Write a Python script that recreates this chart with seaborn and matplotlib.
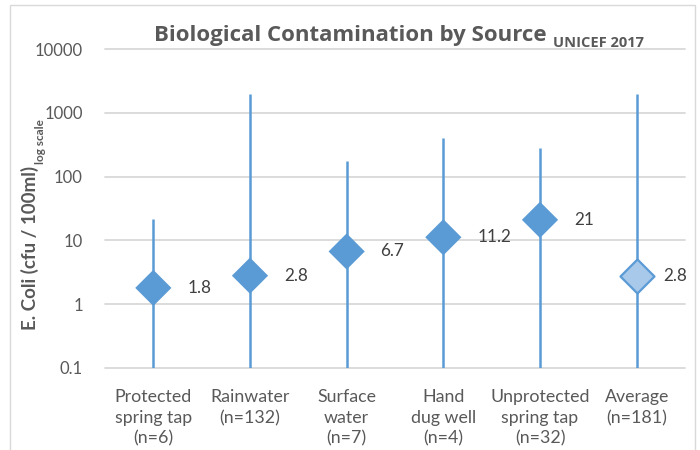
import matplotlib
matplotlib.use("Agg")
import matplotlib.pyplot as plt
import seaborn as sns
import pandas as pd
import numpy as np
from matplotlib.patches import Rectangle

# ---- data ----
categories = ["Protected\nspring tap\n(n=6)", "Rainwater\n(n=132)", "Surface\nwater\n(n=7)",
              "Hand\ndug well\n(n=4)", "Unprotected\nspring tap\n(n=32)", "Average\n(n=181)"]
center_values = [1.8, 2.8, 6.7, 11.2, 21, 2.8]
center_labels = ["1.8", "2.8", "6.7", "11.2", "21", "2.8"]
upper_values = [22, 2000, 175, 400, 280, 2000]
lower_values = [0.1, 0.1, 0.1, 0.1, 0.1, 0.1]
ytick_values = [0.1, 1, 10, 100, 1000, 10000]
ytick_labels = ["0.1", "1", "10", "100", "1000", "10000"]

sns.set_theme(style="white")
plt.rcParams['font.family'] = ['Lato', 'DejaVu Sans']

BLUE = "#5B9BD5"
LIGHT = "#A9C9EA"
GRAY = "#595959"
GRID = "#D9D9D9"

df = pd.DataFrame({"x": np.arange(len(categories)), "y": center_values,
                   "kind": ["src"] * (len(categories) - 1) + ["avg"]})

fig = plt.figure(figsize=(7, 4.5), dpi=100)
ax = fig.add_axes([105 / 700, 1 - 368 / 450, 580 / 700, (368 - 49) / 450])

ax.set_yscale("log")
ax.set_ylim(0.1, 10000)
ax.set_xlim(-0.5, len(categories) - 0.5)

# gridlines
for v in ytick_values:
    ax.axhline(v, color=GRID, lw=1.3, zorder=0, clip_on=False)

ax.vlines(df["x"], lower_values, upper_values, color=BLUE, lw=1.8, zorder=2)

sns.scatterplot(data=df[df.kind == "src"], x="x", y="y", marker="D", s=340,
                color=BLUE, edgecolor="none", linewidth=0, ax=ax, zorder=3, legend=False)
sns.scatterplot(data=df[df.kind == "avg"], x="x", y="y", marker="D", s=300,
                color=LIGHT, edgecolor=BLUE, linewidth=1.6, ax=ax, zorder=3, legend=False)

for i, (v, lab) in enumerate(zip(center_values, center_labels)):
    off = 0.27 if i == len(categories) - 1 else 0.35
    ax.text(i + off, v, lab, ha="left", va="center", fontsize=12.3, color="#404040", zorder=4)

ax.set_yticks(ytick_values)
ax.set_yticklabels(ytick_labels, fontsize=12, color=GRAY)
ax.yaxis.set_minor_locator(matplotlib.ticker.NullLocator())
ax.set_xticks(df["x"])
ax.set_xticklabels(categories, fontsize=12.8, color=GRAY, linespacing=1.38)
ax.tick_params(axis="y", length=0, pad=16)
ax.tick_params(axis="x", length=0, pad=15)
ax.set_xlabel("")
ax.set_ylabel("")
for s in ax.spines.values():
    s.set_visible(False)

# figure border
fig.patches.append(Rectangle((10 / 700, -0.05), 685 / 700, 1.05 - 5 / 450,
                             transform=fig.transFigure, fill=False, edgecolor=GRID, lw=1.0))

renderer = fig.canvas.get_renderer()

# title with subscript
t = fig.text(154 / 700, 1 - 41 / 450, "Biological Contamination by Source", fontsize=16,
             fontweight="bold", color=GRAY, ha="left", va="baseline",
             family=["Open Sans", "DejaVu Sans"])
bb = t.get_window_extent(renderer)
fig.text((bb.x1 + 6) / 700, 1 - 47 / 450, "UNICEF 2017", fontsize=10.5, fontweight="bold",
         color=GRAY, ha="left", va="baseline", family=["Open Sans", "DejaVu Sans"])

# y label with subscript
yl = fig.text(30 / 700, 1 - 330 / 450, "E. Coli (cfu / 100ml)", rotation=90, fontsize=13.5,
              fontweight="bold", color=GRAY, ha="center", va="bottom")
bb2 = yl.get_window_extent(renderer)
fig.text(40 / 700, (bb2.y1 + 2) / 450, "log scale", rotation=90, fontsize=8.5,
         fontweight="bold", color=GRAY, ha="center", va="bottom")

fig.savefig("out.png", dpi=100)
